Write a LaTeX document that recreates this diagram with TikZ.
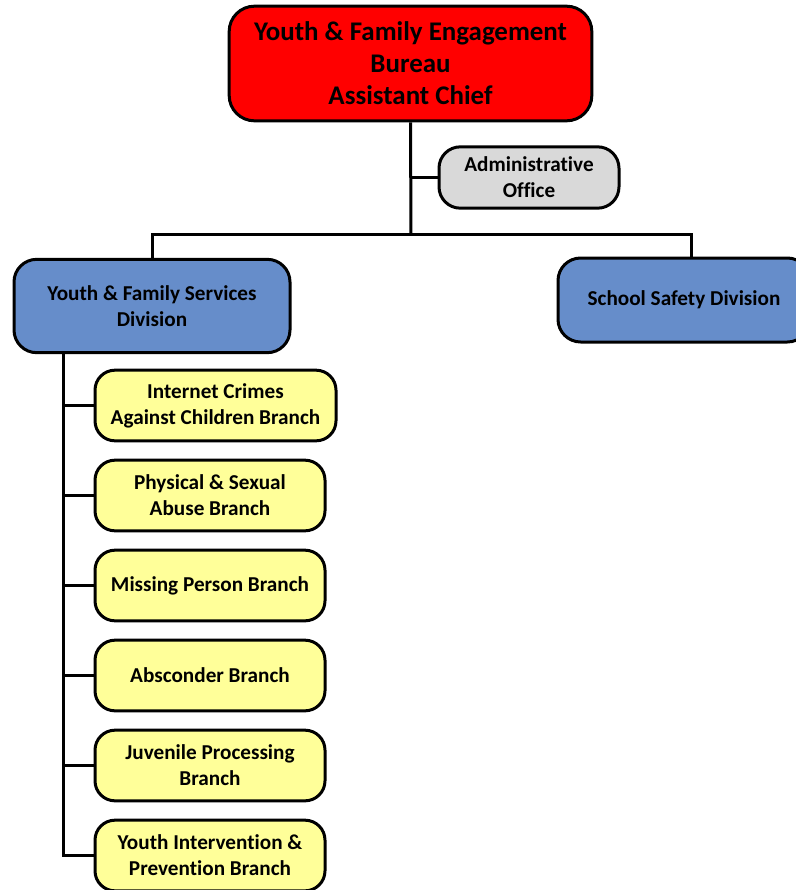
\documentclass[tikz,border=0pt]{standalone}
\usepackage{fontspec}
\setmainfont{Carlito}[RawFeature=-liga]
\definecolor{redbox}{HTML}{FF0000}
\definecolor{greybox}{HTML}{D9D9D9}
\definecolor{bluebox}{HTML}{668DCA}
\definecolor{yellowbox}{HTML}{FFFF99}
\tikzset{
  orgbox/.style={draw=black, line width=2.25pt, rounded corners=15pt, align=center, font=\bfseries\fontsize{15.9}{19.5}\selectfont, inner sep=0pt},
  topbox/.style={orgbox, fill=redbox, rounded corners=19pt, minimum width=272pt, minimum height=86pt, font=\bfseries\fontsize{20.2}{24}\selectfont},
  officebox/.style={orgbox, fill=greybox, minimum width=135pt, minimum height=46pt, rounded corners=16pt},
  divbox/.style={orgbox, fill=bluebox, minimum height=70pt, rounded corners=17pt},
  branchbox/.style={orgbox, fill=yellowbox, minimum width=172.5pt, minimum height=53pt},
  link/.style={draw=black, line width=2.25pt}
}
\begin{document}
\begin{tikzpicture}[x=0.75pt, y=-0.75pt]
\useasboundingbox (0,0) rectangle (796,890);
\clip (0,0) rectangle (796,890);
\node[topbox] (top) at (410.5,63.5) {Youth \& Family Engagement\\Bureau\\Assistant Chief};
\node[officebox] (admin) at (529,177.5) {Administrative\\Office};
\node[divbox, minimum width=207pt] (yfs) at (152,306) {Youth \& Family Services\\Division};
\node[divbox, minimum width=189pt, minimum height=63pt] (school) at (684,300) {School Safety Division};
\node[branchbox, minimum width=180.75pt] (b1) at (215.5,405.5) {Internet Crimes\\Against Children Branch};
\node[branchbox] (b2) at (210,495.5) {Physical \& Sexual\\Abuse Branch};
\node[branchbox] (b3) at (210,585.5) {Missing Person Branch};
\node[branchbox] (b4) at (210,675.5) {Absconder Branch};
\node[branchbox] (b5) at (210,765.5) {Juvenile Processing\\Branch};
\node[branchbox] (b6) at (210,855.5) {Youth Intervention \&\\Prevention Branch};
\coordinate (j) at (411,234);
\coordinate (v) at (63,354);
\draw[link] (top.south) -- (j);
\draw[link] (admin.west) -- (admin.west -| j);
\draw[link] (yfs.north) |- (j) -| ([xshift=5.25pt]school.north);
\draw[link] (v) |- (b6.west);
\foreach \b in {b1,b2,b3,b4,b5} {
  \draw[link] (\b.west) -- (\b.west -| v);
}
\end{tikzpicture}
\end{document}
